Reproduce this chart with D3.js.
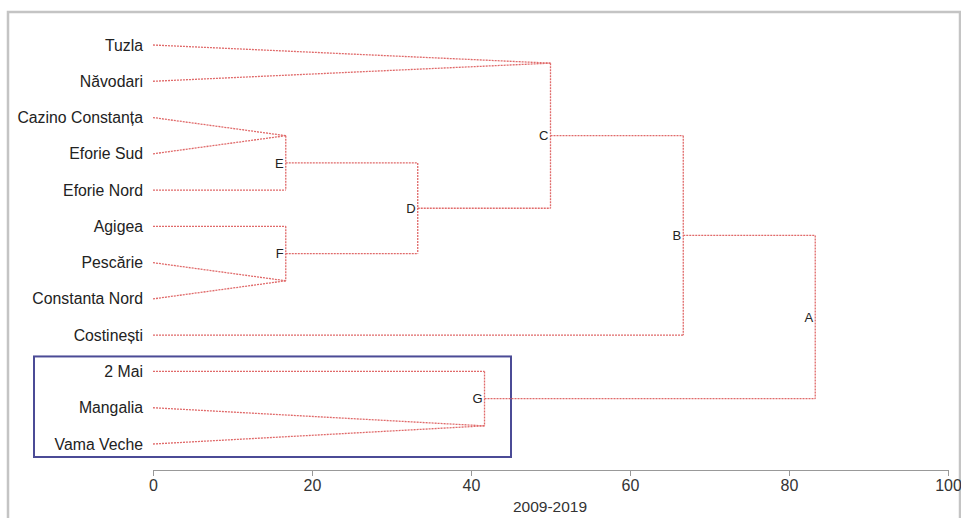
<!DOCTYPE html>
<html>
<head>
<meta charset="utf-8">
<script src="https://cdn.jsdelivr.net/npm/d3@7"></script>
<style>
  html, body { margin: 0; padding: 0; background: #fff; }
  svg { display: block; font-family: "Liberation Sans", Arial, sans-serif; }
</style>
</head>
<body>
<svg id="chart" width="961" height="518"></svg>
<script>
// ---- Data ----
const leaves = ["Tuzla", "Năvodari", "Cazino Constanța", "Eforie Sud", "Eforie Nord",
  "Agigea", "Pescărie", "Constanta Nord", "Costinești", "2 Mai", "Mangalia", "Vama Veche"];

// merge nodes (in build order)
const nodeIds      = ["p1", "p2", "E", "p3", "F", "D", "C", "B", "p4", "G", "A"];
const nodeChildren = [
  ["Tuzla", "Năvodari"],
  ["Cazino Constanța", "Eforie Sud"],
  ["p2", "Eforie Nord"],
  ["Pescărie", "Constanta Nord"],
  ["Agigea", "p3"],
  ["E", "F"],
  ["p1", "D"],
  ["C", "Costinești"],
  ["Mangalia", "Vama Veche"],
  ["2 Mai", "p4"],
  ["B", "G"]
];
const nodeHeights  = [50, 16.7, 16.7, 16.7, 16.7, 33.3, 50, 66.7, 41.7, 41.7, 83.3];
const nodeLabels   = ["", "", "E", "", "F", "D", "C", "B", "", "G", "A"];
const nodeConverge = [true, true, false, true, false, false, false, false, true, false, false];

const xTicks = [0, 20, 40, 60, 80, 100];
const xTitle = "2009-2019";
const highlighted = ["2 Mai", "Mangalia", "Vama Veche"];

// ---- Layout ----
const svg = d3.select("#chart");
const x = d3.scaleLinear().domain([0, 100]).range([153, 948]);
const y = d3.scalePoint().domain(leaves).range([45, 444]);

const lineColor = "#e06a6a";
const dash = "2,1";

// outer frame
svg.append("rect")
  .attr("x", 8).attr("y", 12).attr("width", 952).attr("height", 530)
  .attr("fill", "none").attr("stroke", "#c4c4c4").attr("stroke-width", 2.5);

// highlight box
const hy0 = y(highlighted[0]) - 15, hy1 = y(highlighted[highlighted.length - 1]) + 13;
svg.append("rect")
  .attr("x", 34).attr("y", hy0).attr("width", 477).attr("height", hy1 - hy0)
  .attr("fill", "none").attr("stroke", "#4b4b96").attr("stroke-width", 2);

// positions
const pos = {};
leaves.forEach(l => pos[l] = { x: x(0), y: y(l) });

const g = svg.append("g").attr("fill", "none").attr("stroke", lineColor)
  .attr("stroke-width", 1.3).attr("stroke-dasharray", dash);

nodeIds.forEach((id, i) => {
  const kids = nodeChildren[i].map(k => pos[k]);
  const nx = x(nodeHeights[i]);
  const ny = d3.mean(kids, k => k.y);
  if (nodeConverge[i]) {
    kids.forEach(k => {
      g.append("line").attr("x1", k.x).attr("y1", k.y).attr("x2", nx).attr("y2", ny);
    });
  } else {
    kids.forEach(k => {
      if (Math.abs(k.x - nx) > 0.5)
        g.append("line").attr("x1", k.x).attr("y1", k.y).attr("x2", nx).attr("y2", k.y);
    });
    g.append("line").attr("x1", nx).attr("y1", d3.min(kids, k => k.y))
      .attr("x2", nx).attr("y2", d3.max(kids, k => k.y));
  }
  pos[id] = { x: nx, y: ny };
  if (nodeLabels[i]) {
    svg.append("text").attr("x", nx - 2).attr("y", ny).attr("dy", "0.36em")
      .attr("text-anchor", "end").attr("font-size", 13).attr("fill", "#222")
      .text(nodeLabels[i]);
  }
});

// leaf labels
svg.append("g").selectAll("text").data(leaves).join("text")
  .attr("x", 143).attr("y", d => y(d)).attr("dy", "0.35em")
  .attr("text-anchor", "end").attr("font-size", 15.8).attr("fill", "#222")
  .text(d => d);

// x axis
const axis = svg.append("g").attr("transform", "translate(0,470)")
  .call(d3.axisBottom(x).tickValues(xTicks).tickSize(6).tickSizeOuter(0).tickPadding(4));
axis.select(".domain").attr("stroke", "#999");
axis.selectAll(".tick line").attr("stroke", "#999");
axis.selectAll(".tick text").attr("font-size", 16).attr("fill", "#333")
  .attr("font-family", "'Liberation Sans', Arial, sans-serif");

svg.append("text").attr("x", 550).attr("y", 512).attr("text-anchor", "middle")
  .attr("font-size", 15.5).attr("fill", "#333").text(xTitle);
</script>
</body>
</html>
